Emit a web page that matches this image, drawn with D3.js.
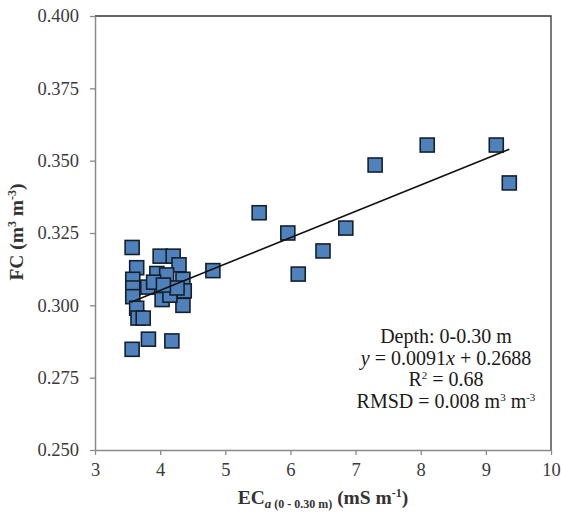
<!DOCTYPE html>
<html>
<head>
<meta charset="utf-8">
<script src="https://cdn.jsdelivr.net/npm/d3@7"></script>
<style>
  html, body { margin: 0; padding: 0; background: #fff; }
  svg { display: block; }
  text { font-family: "Liberation Serif", "Times New Roman", serif; }
</style>
</head>
<body>
<svg id="chart" width="561" height="514"></svg>
<script>
// Apparent electrical conductivity (mS m-1) and field capacity (m3 m-3), 0-0.30 m depth
const ecA = [3.57, 3.64, 3.58, 3.58, 3.58, 3.64, 3.66, 3.74, 3.82, 4.18, 3.57,
             3.81, 3.95, 4.00, 4.20, 4.29, 4.10, 4.35, 4.37, 4.35, 4.03, 4.15,
             4.26, 3.90, 4.05, 4.81, 5.52, 5.96, 6.12, 6.50, 6.85, 7.30, 8.10,
             9.16, 9.36];
const fc  = [0.320, 0.313, 0.309, 0.306, 0.303, 0.299, 0.2956, 0.2956, 0.2883, 0.2877, 0.2848,
             0.3063, 0.311, 0.317, 0.317, 0.314, 0.3105, 0.309, 0.305, 0.300, 0.302, 0.3035,
             0.306, 0.308, 0.307, 0.312, 0.332, 0.325, 0.3108, 0.3188, 0.3267, 0.3485, 0.3554,
             0.3554, 0.3423];

// Linear fit reported on the chart
const slope = 0.0091, intercept = 0.2688;
const fitRange = [3.55, 9.36];

const xTicks = [3, 4, 5, 6, 7, 8, 9, 10];
const yTicks = [0.250, 0.275, 0.300, 0.325, 0.350, 0.375, 0.400];

const svg = d3.select("#chart");
const m = { left: 95, right: 551, top: 16, bottom: 450 };

const x = d3.scaleLinear().domain([3, 10]).range([m.left, m.right]);
const y = d3.scaleLinear().domain([0.25, 0.40]).range([m.bottom, m.top]);

const axisColor = "#8a8a8a";
const labelColor = "#3a3a3a";

// plot frame (top and right edges)
svg.append("path")
  .attr("d", `M${m.left},${m.top}H${m.right}V${m.bottom}`)
  .attr("fill", "none").attr("stroke", "#333").attr("stroke-width", 1.3);

// y axis
const gy = svg.append("g").attr("transform", `translate(${m.left},0)`)
  .call(d3.axisLeft(y).tickValues(yTicks).tickFormat(d3.format(".3f")).tickSize(5).tickSizeOuter(0));
gy.select(".domain").attr("stroke", axisColor).attr("stroke-width", 1.5);
gy.selectAll(".tick line").attr("stroke", axisColor).attr("stroke-width", 1.3);
gy.selectAll(".tick text").attr("fill", labelColor).attr("font-size", 18.5)
  .attr("font-family", "Liberation Serif, serif").attr("x", -16);

// x axis
const gx = svg.append("g").attr("transform", `translate(0,${m.bottom})`)
  .call(d3.axisBottom(x).tickValues(xTicks).tickFormat(d3.format("d")).tickSize(5).tickSizeOuter(0));
gx.select(".domain").attr("stroke", axisColor).attr("stroke-width", 1.5);
gx.selectAll(".tick line").attr("stroke", axisColor).attr("stroke-width", 1.3);
gx.selectAll(".tick text").attr("fill", labelColor).attr("font-size", 18.5)
  .attr("font-family", "Liberation Serif, serif").attr("y", 13);

// data points
const size = 14;
svg.append("g").selectAll("rect")
  .data(ecA.map((v, i) => [v, fc[i]]))
  .join("rect")
  .attr("x", d => x(d[0]) - size / 2)
  .attr("y", d => y(d[1]) - size / 2)
  .attr("width", size).attr("height", size)
  .attr("fill", "#4f81bd")
  .attr("stroke", "#15202b").attr("stroke-width", 1.6);

// regression line
svg.append("line")
  .attr("x1", x(fitRange[0])).attr("y1", y(slope * fitRange[0] + intercept))
  .attr("x2", x(fitRange[1])).attr("y2", y(slope * fitRange[1] + intercept))
  .attr("stroke", "#111").attr("stroke-width", 1.6);

// annotation
const ann = svg.append("text").attr("text-anchor", "middle").attr("font-size", 20).attr("fill", "#1a1a1a");
const ax = 446;
ann.append("tspan").attr("x", ax).attr("y", 343).text("Depth: 0-0.30 m");
const l2 = ann.append("tspan").attr("x", ax).attr("y", 365);
l2.append("tspan").attr("font-style", "italic").text("y");
l2.append("tspan").text(" = 0.0091");
l2.append("tspan").attr("font-style", "italic").text("x");
l2.append("tspan").text(" + 0.2688");
const l3 = ann.append("tspan").attr("x", ax).attr("y", 386);
l3.append("tspan").text("R");
l3.append("tspan").attr("font-size", 11).attr("dy", -7).text("2");
l3.append("tspan").attr("dy", 7).text(" = 0.68");
const l4 = ann.append("tspan").attr("x", ax).attr("y", 408);
l4.append("tspan").text("RMSD = 0.008 m");
l4.append("tspan").attr("font-size", 11).attr("dy", -7).text("3");
l4.append("tspan").attr("dy", 7).text(" m");
l4.append("tspan").attr("font-size", 11).attr("dy", -7).text("-3");

// y axis title
const yt = svg.append("text")
  .attr("transform", "translate(23,232) rotate(-90)")
  .attr("text-anchor", "middle").attr("font-size", 19.5).attr("font-weight", "bold").attr("fill", "#333");
yt.append("tspan").text("FC (m");
yt.append("tspan").attr("font-size", 12).attr("dy", -7).text("3");
yt.append("tspan").attr("dy", 7).text(" m");
yt.append("tspan").attr("font-size", 12).attr("dy", -7).text("-3");
yt.append("tspan").attr("dy", 7).text(")");

// x axis title
const xt = svg.append("text")
  .attr("x", 323).attr("y", 504)
  .attr("text-anchor", "middle").attr("font-size", 19.5).attr("font-weight", "bold").attr("fill", "#333");
xt.append("tspan").text("EC");
xt.append("tspan").attr("font-size", 13).attr("font-style", "italic").attr("dy", 4).text("a");
xt.append("tspan").attr("font-size", 12).text(" (0 - 0.30 m)");
xt.append("tspan").attr("dy", -4).text(" (mS m");
xt.append("tspan").attr("font-size", 12).attr("dy", -7).text("-1");
xt.append("tspan").attr("dy", 7).text(")");
</script>
</body>
</html>
